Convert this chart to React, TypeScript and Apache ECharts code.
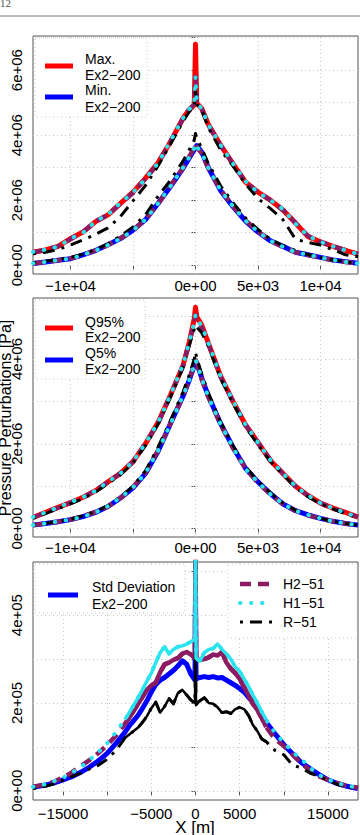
import React, { useEffect, useRef } from 'react';
import * as echarts from 'echarts';

// Distance along the profile [m]
const X_PROFILE = [-13000, -12000, -11000, -10000, -9000, -8000, -7000, -6000, -5000, -4000, -3000, -2000, -1000, -500, -100, 0, 100, 500, 1000, 2000, 3000, 4000, 5000, 6000, 7000, 8000, 9000, 10000, 11000, 12000, 13000];

// Panel 1: envelope (max / min), values in MPa
const maxEx2 = [0.40, 0.47, 0.58, 0.82, 1.02, 1.34, 1.55, 1.90, 2.25, 2.68, 3.15, 3.80, 4.52, 4.78, 4.92, 6.80, 4.98, 4.82, 4.35, 3.70, 3.12, 2.56, 2.25, 2.00, 1.70, 1.30, 0.88, 0.72, 0.58, 0.46, 0.34];
const maxH2 = [0.40, 0.47, 0.58, 0.80, 1.02, 1.34, 1.55, 1.90, 2.22, 2.66, 3.12, 3.80, 4.50, 4.80, 4.95, 5.80, 5.00, 4.80, 4.33, 3.68, 3.12, 2.56, 2.24, 2.00, 1.70, 1.30, 0.90, 0.72, 0.58, 0.46, 0.34];
const maxH1 = [0.41, 0.48, 0.57, 0.82, 1.00, 1.35, 1.56, 1.92, 2.24, 2.66, 3.14, 3.82, 4.52, 4.80, 4.96, 5.80, 4.98, 4.82, 4.34, 3.70, 3.12, 2.58, 2.24, 2.00, 1.72, 1.28, 0.90, 0.72, 0.58, 0.46, 0.34];
const maxR = [0.35, 0.40, 0.48, 0.62, 0.78, 0.95, 1.15, 1.50, 1.98, 2.45, 3.05, 3.72, 4.42, 4.72, 4.90, 5.40, 4.95, 4.80, 4.25, 3.55, 3.05, 2.50, 2.05, 1.74, 1.40, 0.80, 0.70, 0.62, 0.48, 0.32, 0.26];
const minEx2 = [0.05, 0.10, 0.15, 0.20, 0.32, 0.45, 0.63, 0.82, 1.08, 1.40, 1.90, 2.42, 2.98, 3.30, 3.55, 3.62, 3.68, 3.48, 3.02, 2.30, 1.80, 1.36, 1.02, 0.75, 0.58, 0.40, 0.32, 0.24, 0.16, 0.11, 0.06];
const minH2 = [0.05, 0.10, 0.15, 0.21, 0.31, 0.46, 0.62, 0.83, 1.06, 1.42, 1.88, 2.44, 3.00, 3.34, 3.62, 3.74, 3.62, 3.44, 3.00, 2.32, 1.82, 1.38, 1.04, 0.76, 0.56, 0.40, 0.31, 0.23, 0.16, 0.10, 0.06];
const minH1 = [0.06, 0.10, 0.16, 0.20, 0.32, 0.45, 0.62, 0.82, 1.07, 1.41, 1.90, 2.43, 3.00, 3.32, 3.60, 3.74, 3.64, 3.46, 3.01, 2.31, 1.81, 1.37, 1.03, 0.75, 0.57, 0.40, 0.32, 0.24, 0.16, 0.10, 0.06];
const minR = [0.08, 0.12, 0.18, 0.24, 0.34, 0.48, 0.66, 0.90, 1.18, 1.55, 2.12, 2.62, 3.20, 3.55, 3.85, 4.05, 3.90, 3.60, 3.15, 2.45, 1.92, 1.46, 1.10, 0.80, 0.60, 0.45, 0.33, 0.24, 0.16, 0.10, 0.06];

// Panel 2: 95% / 5% quantiles, values in MPa
const q95Ex2 = [0.26, 0.38, 0.50, 0.61, 0.74, 0.89, 1.10, 1.30, 1.58, 2.00, 2.50, 3.15, 3.85, 4.40, 4.95, 5.22, 5.00, 4.80, 4.40, 3.60, 3.00, 2.45, 2.03, 1.60, 1.30, 1.00, 0.78, 0.60, 0.48, 0.38, 0.27];
const q95H2 = [0.26, 0.37, 0.49, 0.61, 0.73, 0.90, 1.09, 1.31, 1.57, 2.00, 2.48, 3.14, 3.84, 4.38, 4.85, 5.04, 4.92, 4.75, 4.38, 3.58, 3.00, 2.44, 2.02, 1.62, 1.29, 1.00, 0.77, 0.60, 0.47, 0.37, 0.27];
const q95H1 = [0.27, 0.38, 0.50, 0.62, 0.74, 0.89, 1.10, 1.30, 1.58, 2.01, 2.50, 3.15, 3.86, 4.40, 4.88, 5.04, 4.95, 4.78, 4.40, 3.60, 3.01, 2.45, 2.03, 1.61, 1.30, 1.00, 0.78, 0.60, 0.48, 0.37, 0.27];
const q95R = [0.24, 0.35, 0.47, 0.58, 0.71, 0.86, 1.06, 1.27, 1.55, 1.96, 2.46, 3.10, 3.80, 4.32, 4.70, 4.80, 4.75, 4.62, 4.32, 3.55, 2.96, 2.40, 1.98, 1.58, 1.27, 0.97, 0.75, 0.58, 0.46, 0.35, 0.25];
const q5Ex2 = [0.08, 0.12, 0.16, 0.21, 0.28, 0.38, 0.52, 0.72, 0.96, 1.30, 1.82, 2.48, 3.12, 3.50, 3.85, 3.95, 3.92, 3.55, 3.15, 2.48, 1.92, 1.42, 1.10, 0.82, 0.58, 0.42, 0.32, 0.24, 0.17, 0.12, 0.08];
const q5H2 = [0.08, 0.12, 0.16, 0.21, 0.29, 0.39, 0.52, 0.72, 0.98, 1.32, 1.84, 2.48, 3.12, 3.52, 3.88, 3.98, 3.90, 3.52, 3.12, 2.46, 1.90, 1.42, 1.08, 0.80, 0.58, 0.42, 0.31, 0.24, 0.17, 0.12, 0.08];
const q5H1 = [0.08, 0.12, 0.17, 0.21, 0.28, 0.38, 0.53, 0.73, 0.97, 1.31, 1.83, 2.47, 3.13, 3.50, 3.86, 3.97, 3.92, 3.54, 3.13, 2.47, 1.91, 1.41, 1.09, 0.81, 0.58, 0.42, 0.32, 0.24, 0.17, 0.12, 0.08];
const q5R = [0.08, 0.12, 0.17, 0.22, 0.30, 0.40, 0.54, 0.75, 1.00, 1.36, 1.92, 2.55, 3.22, 3.62, 4.00, 4.17, 4.02, 3.65, 3.22, 2.52, 1.96, 1.46, 1.12, 0.84, 0.60, 0.43, 0.32, 0.24, 0.17, 0.12, 0.08];

// Panel 3: standard deviation, distance [m] and values in bar (1e5 Pa)
const X_STD = [-18400, -17000, -16000, -15000, -14000, -13000, -12000, -11000, -10000, -9000, -8000, -7500, -7000, -6500, -6000, -5500, -5000, -4500, -4000, -3500, -3000, -2500, -2000, -1500, -1000, -500, -60, 0, 60, 500, 1000, 1500, 2000, 2500, 3000, 3500, 4000, 4500, 5000, 5500, 6000, 6500, 7000, 7500, 8000, 9000, 10000, 11000, 12000, 13000, 14000, 15000, 16000, 17000, 18400];
const stdEx2 = [0.08, 0.13, 0.18, 0.25, 0.32, 0.42, 0.54, 0.68, 0.85, 1.08, 1.33, 1.48, 1.60, 1.72, 1.88, 2.05, 2.25, 2.42, 2.52, 2.58, 2.66, 2.74, 2.84, 2.96, 2.88, 2.65, 2.52, 4.60, 2.55, 2.58, 2.60, 2.58, 2.60, 2.57, 2.58, 2.52, 2.46, 2.40, 2.33, 2.25, 2.13, 2.02, 1.88, 1.72, 1.56, 1.30, 1.05, 0.84, 0.64, 0.50, 0.37, 0.25, 0.17, 0.11, 0.05];
const stdH2 = [0.09, 0.14, 0.21, 0.30, 0.42, 0.56, 0.70, 0.86, 1.04, 1.26, 1.52, 1.66, 1.82, 1.98, 2.14, 2.30, 2.40, 2.46, 2.70, 2.88, 2.92, 2.98, 3.02, 3.12, 3.16, 3.10, 3.02, 5.50, 3.00, 2.98, 3.00, 3.04, 3.10, 3.08, 3.16, 2.92, 2.78, 2.68, 2.55, 2.36, 2.18, 1.98, 1.84, 1.66, 1.45, 1.18, 1.02, 0.82, 0.62, 0.46, 0.33, 0.25, 0.18, 0.12, 0.07];
const stdH1 = [0.09, 0.15, 0.22, 0.30, 0.41, 0.54, 0.70, 0.88, 1.08, 1.34, 1.62, 1.78, 1.95, 2.12, 2.30, 2.50, 2.68, 2.92, 3.15, 3.28, 3.12, 3.22, 3.28, 3.30, 3.34, 3.40, 3.45, 5.50, 3.02, 2.95, 3.15, 3.22, 3.24, 3.34, 3.22, 3.12, 3.00, 2.82, 2.72, 2.55, 2.38, 2.18, 2.00, 1.80, 1.62, 1.32, 1.10, 0.88, 0.72, 0.52, 0.36, 0.26, 0.18, 0.12, 0.07];
const stdR = [0.05, 0.10, 0.16, 0.24, 0.32, 0.40, 0.50, 0.58, 0.72, 0.92, 1.20, 1.28, 1.36, 1.44, 1.56, 1.70, 1.88, 2.02, 1.78, 1.92, 2.10, 1.98, 2.22, 2.30, 2.18, 2.06, 2.00, 3.42, 1.95, 2.05, 2.12, 2.00, 1.98, 1.90, 1.78, 1.80, 1.76, 1.86, 1.90, 1.86, 1.72, 1.50, 1.36, 1.18, 1.12, 0.92, 0.82, 0.58, 0.52, 0.40, 0.33, 0.24, 0.15, 0.09, 0.04];

// Axis ticks and their labels ('' = tick without label)
const xTicksProfile = [-10000, -5000, 0, 5000, 10000];
const xLabelsProfile = ['\u22121e+04', '', '0e+00', '5e+03', '1e+04'];
const xTicksStd = [-15000, -10000, -5000, 0, 5000, 10000, 15000];
const xLabelsStd = ['\u221215000', '', '\u22125000', '0', '5000', '', '15000'];
const yTicksMax = [0, 1, 2, 3, 4, 5, 6, 7];
const yLabelsMax = ['0e+00', '', '2e+06', '', '4e+06', '', '6e+06', ''];
const yTicksQ = [0, 1, 2, 3, 4, 5];
const yLabelsQ = ['0e+00', '', '2e+06', '', '4e+06', ''];
const yTicksStd = [0, 1, 2, 3, 4, 5];
const yLabelsStd = ['0e+00', '', '2e+05', '', '4e+05', ''];

const MPA = 1e6;
const BAR = 1e5;

const RED = '#FF0000';
const BLUE = '#0000FF';
const PURPLE = '#8B1C62';
const CYAN = '#2BE3EE';
const BLACK = '#000000';
const FRAME = '#555555';
const GRIDC = '#c8c8c8';
const FONT = '"Liberation Sans", Arial, sans-serif';

const DASH_H2 = [11, 7];
const DOT_H1 = [0.5, 10.5];
const DOTDASH_R = [3, 7, 12, 7];

const toPts = (xs: number[], ys: number[], k: number) => xs.map((x, i) => [x, ys[i] * k]);

function lineSeries(idx: number, data: number[][], color: string, width: number, type: any, z: number, cap = 'butt') {
  return {
    type: 'line',
    xAxisIndex: idx,
    yAxisIndex: idx,
    data,
    showSymbol: false,
    symbol: 'none',
    silent: true,
    z,
    lineStyle: { color, width, type, cap, join: 'round' },
  };
}

function gridSeries(idx: number, xTicks: number[], yTicks: number[]) {
  return {
    type: 'line',
    xAxisIndex: idx,
    yAxisIndex: idx,
    data: [],
    silent: true,
    z: 1,
    markLine: {
      silent: true,
      symbol: ['none', 'none'],
      z: 1,
      label: { show: false },
      lineStyle: { color: GRIDC, type: [1, 3], width: 1 },
      data: [...xTicks.map((v) => ({ xAxis: v })), ...yTicks.map((v) => ({ yAxis: v }))],
    },
  };
}

function xAxisFor(idx: number, min: number, max: number, ticks: number[], labels: string[], margin: number) {
  return {
    type: 'value',
    gridIndex: idx,
    min,
    max,
    axisLine: { show: false },
    splitLine: { show: false },
    axisTick: { show: true, customValues: ticks, length: 5, lineStyle: { color: FRAME } },
    axisLabel: {
      customValues: ticks.filter((_, i) => labels[i] !== ''),
      formatter: (v: number) => labels[ticks.indexOf(v)] ?? '',
      color: '#000',
      fontFamily: FONT,
      fontSize: 15,
      margin,
    },
  };
}

function yAxisFor(idx: number, min: number, max: number, ticks: number[], labels: string[], k: number) {
  const vals = ticks.map((t) => t * k);
  return {
    type: 'value',
    gridIndex: idx,
    min,
    max,
    axisLine: { show: false },
    splitLine: { show: false },
    axisTick: { show: true, customValues: vals, length: 4, lineStyle: { color: FRAME } },
    axisLabel: {
      customValues: vals.filter((_, i) => labels[i] !== ''),
      formatter: (v: number) => labels[Math.round(v / k)] ?? '',
      rotate: 90,
      color: '#000',
      fontFamily: FONT,
      fontSize: 15,
      margin: 9,
    },
  };
}

// legend helpers
const legBox = (x: number, y: number, w: number, h: number) => ({
  type: 'rect',
  z: 100,
  shape: { x, y, width: w, height: h },
  style: { fill: '#fff', stroke: GRIDC, lineWidth: 1, lineDash: [1, 3] },
});
const legLine = (x1: number, x2: number, y: number, color: string, width: number, dash: number[] | null, cap = 'butt') => ({
  type: 'line',
  z: 101,
  shape: { x1, y1: y, x2, y2: y },
  style: { stroke: color, lineWidth: width, lineDash: dash || undefined, lineCap: cap },
});
const legText = (x: number, y: number, text: string, size = 14) => ({
  type: 'text',
  z: 101,
  x,
  y,
  style: { text, fill: '#000', font: `${size}px ${FONT}`, textAlign: 'left', textVerticalAlign: 'middle' },
});

const inCenter = (p: number[]) => Math.abs(p[0]) <= 8000;

export default function App() {
  const ref = useRef<HTMLDivElement>(null);

  useEffect(() => {
    if (!ref.current) return;
    const chart = echarts.init(ref.current, null, { renderer: 'svg' });

    const s3H2 = toPts(X_STD, stdH2, BAR);
    const s3H1 = toPts(X_STD, stdH1, BAR);
    const s3R = toPts(X_STD, stdR, BAR);

    const option = {
      animation: false,
      grid: [
        { left: 33, right: 2, top: 36, height: 238, show: true, borderColor: FRAME, borderWidth: 1, backgroundColor: 'transparent' },
        { left: 33, right: 2, top: 298, height: 239, show: true, borderColor: FRAME, borderWidth: 1, backgroundColor: 'transparent' },
        { left: 33, right: 2, top: 562, height: 238, show: true, borderColor: FRAME, borderWidth: 1, backgroundColor: 'transparent' },
      ],
      xAxis: [
        xAxisFor(0, -13000, 13000, xTicksProfile, xLabelsProfile, 4),
        xAxisFor(1, -13000, 13000, xTicksProfile, xLabelsProfile, 3),
        xAxisFor(2, -18400, 18400, xTicksStd, xLabelsStd, 6),
      ],
      yAxis: [
        yAxisFor(0, -0.27e6, 7.05e6, yTicksMax, yLabelsMax, MPA),
        yAxisFor(1, -0.2e6, 5.44e6, yTicksQ, yLabelsQ, MPA),
        yAxisFor(2, -0.21e5, 5.21e5, yTicksStd, yLabelsStd, BAR),
      ],
      series: [
        gridSeries(0, xTicksProfile, yTicksMax.map((v) => v * MPA)),
        gridSeries(1, xTicksProfile, yTicksQ.map((v) => v * MPA)),
        gridSeries(2, xTicksStd, yTicksStd.map((v) => v * BAR)),

        // Panel 1: max / min
        lineSeries(0, toPts(X_PROFILE, maxEx2, MPA), RED, 5, 'solid', 2),
        lineSeries(0, toPts(X_PROFILE, minEx2, MPA), BLUE, 5, 'solid', 2),
        lineSeries(0, toPts(X_PROFILE, maxH2, MPA), PURPLE, 4.5, DASH_H2, 3),
        lineSeries(0, toPts(X_PROFILE, minH2, MPA), PURPLE, 4.5, DASH_H2, 3),
        lineSeries(0, toPts(X_PROFILE, maxR, MPA), BLACK, 3, DOTDASH_R, 4),
        lineSeries(0, toPts(X_PROFILE, minR, MPA), BLACK, 3, DOTDASH_R, 4),
        lineSeries(0, toPts(X_PROFILE, maxH1, MPA), CYAN, 4, DOT_H1, 5, 'round'),
        lineSeries(0, toPts(X_PROFILE, minH1, MPA), CYAN, 4, DOT_H1, 5, 'round'),

        // Panel 2: quantiles
        lineSeries(1, toPts(X_PROFILE, q95Ex2, MPA), RED, 5, 'solid', 2),
        lineSeries(1, toPts(X_PROFILE, q5Ex2, MPA), BLUE, 5, 'solid', 2),
        lineSeries(1, toPts(X_PROFILE, q95H2, MPA), PURPLE, 4.5, DASH_H2, 3),
        lineSeries(1, toPts(X_PROFILE, q5H2, MPA), PURPLE, 4.5, DASH_H2, 3),
        lineSeries(1, toPts(X_PROFILE, q95R, MPA), BLACK, 3, DOTDASH_R, 4),
        lineSeries(1, toPts(X_PROFILE, q5R, MPA), BLACK, 3, DOTDASH_R, 4),
        lineSeries(1, toPts(X_PROFILE, q95H1, MPA), CYAN, 4, DOT_H1, 5, 'round'),
        lineSeries(1, toPts(X_PROFILE, q5H1, MPA), CYAN, 4, DOT_H1, 5, 'round'),

        // Panel 3: standard deviation (dense noise makes the core look solid)
        lineSeries(2, toPts(X_STD, stdEx2, BAR), BLUE, 5, 'solid', 2),
        lineSeries(2, s3H2, PURPLE, 4.5, DASH_H2, 3),
        lineSeries(2, s3H2.filter(inCenter), PURPLE, 4.5, 'solid', 3),
        lineSeries(2, s3R, BLACK, 3, DOTDASH_R, 4),
        lineSeries(2, s3R.filter(inCenter), BLACK, 2.5, 'solid', 4),
        lineSeries(2, s3H1, CYAN, 4, DOT_H1, 5, 'round'),
        lineSeries(2, s3H1.filter(inCenter), CYAN, 3.5, 'solid', 5),
      ],
      graphic: [
        // page header
        { type: 'text', x: 0, y: -3, style: { text: '12', fill: '#555', font: '11px "Liberation Serif", serif' } },
        { type: 'line', shape: { x1: 0, y1: 16, x2: 360, y2: 16 }, style: { stroke: '#777', lineWidth: 1 } },

        // axis titles
        {
          type: 'text', x: 5, y: 418, rotation: Math.PI / 2, z: 50,
          style: { text: 'Pressure Perturbations [Pa]', fill: '#000', font: `16px ${FONT}`, textAlign: 'center', textVerticalAlign: 'middle' },
        },
        {
          type: 'text', x: 195, y: 827, z: 50,
          style: { text: 'X [m]', fill: '#000', font: `17px ${FONT}`, textAlign: 'center', textVerticalAlign: 'middle' },
        },

        // panel 1 legend
        legBox(35, 38, 112, 79),
        legLine(45, 73, 66, RED, 5, null),
        legText(85, 59, 'Max.'),
        legText(85, 75, 'Ex2\u2212200'),
        legLine(45, 73, 97, BLUE, 5, null),
        legText(85, 90, 'Min.'),
        legText(85, 107, 'Ex2\u2212200'),

        // panel 2 legend
        legBox(35, 300, 110, 79),
        legLine(45, 73, 328, RED, 5, null),
        legText(85, 322, 'Q95%'),
        legText(85, 337, 'Ex2\u2212200'),
        legLine(45, 73, 360, BLUE, 5, null),
        legText(85, 353, 'Q5%'),
        legText(85, 369, 'Ex2\u2212200'),

        // panel 3 legends
        legBox(35, 564, 150, 49),
        legLine(48, 78, 595, BLUE, 5, null),
        legText(92, 587, 'Std Deviation'),
        legText(92, 604, 'Ex2\u2212200'),

        legBox(228, 564, 129, 74),
        legLine(240, 272, 584, PURPLE, 4.5, DASH_H2),
        legText(283, 584, 'H2\u221251'),
        legLine(240, 272, 603, CYAN, 4, DOT_H1, 'round'),
        legText(283, 603, 'H1\u221251'),
        legLine(240, 272, 622, BLACK, 3, DOTDASH_R),
        legText(283, 622, 'R\u221251'),
      ],
    };

    chart.setOption(option as any);
    return () => chart.dispose();
  }, []);

  return <div ref={ref} style={{ position: 'absolute', left: 0, top: 0, width: 360, height: 835 }} />;
}
